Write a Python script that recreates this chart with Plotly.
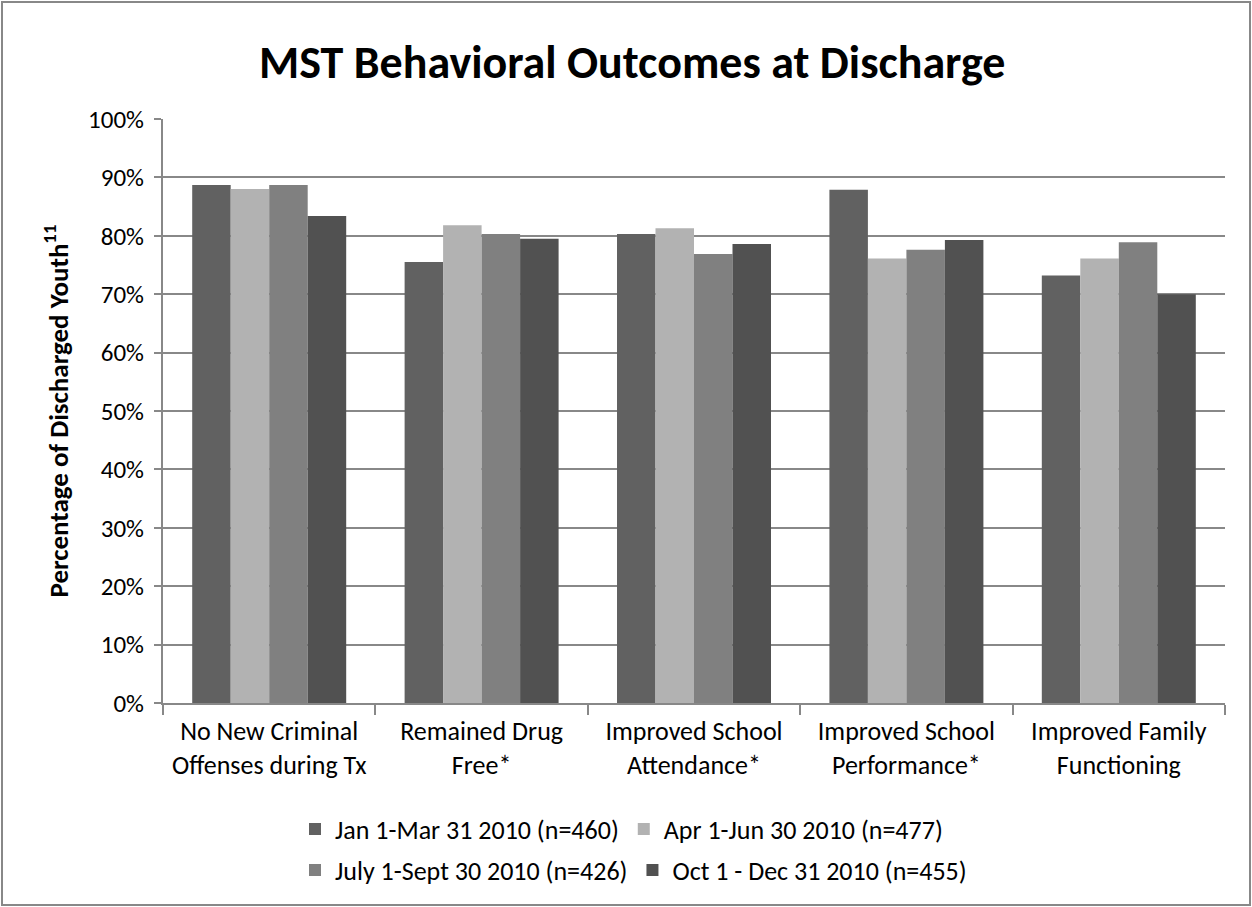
import plotly.graph_objects as go

# Outcome categories along the x axis
categories = [
    "No New Criminal<br>Offenses during Tx",
    "Remained Drug<br>Free*",
    "Improved School<br>Attendance*",
    "Improved School<br>Performance*",
    "Improved Family<br>Functioning",
]

# Share of discharged youth (%) per reporting period
q1_2010 = [88.7, 75.5, 80.3, 87.9, 73.2]
q2_2010 = [88.0, 81.8, 81.3, 76.1, 76.1]
q3_2010 = [88.7, 80.3, 76.9, 77.6, 78.9]
q4_2010 = [83.4, 79.5, 78.6, 79.3, 70.0]

series_names = [
    "Jan 1-Mar 31 2010 (n=460)",
    "Apr 1-Jun 30 2010 (n=477)",
    "July 1-Sept 30 2010 (n=426)",
    "Oct 1 - Dec 31 2010 (n=455)",
]
series_values = [q1_2010, q2_2010, q3_2010, q4_2010]
series_colors = ["#616161", "#b2b2b2", "#808080", "#515151"]
series_legends = ["legend", "legend", "legend2", "legend2"]

FONT = "Carlito, Lato, 'Open Sans', sans-serif"
W, H = 1252, 907
ML, MR, MT, MB = 163, 27, 119, 204

fig = go.Figure()
for name, vals, col, lg in zip(series_names, series_values, series_colors, series_legends):
    fig.add_trace(go.Bar(
        x=categories, y=vals, name=name,
        marker=dict(color=col, line=dict(width=0)),
        legend=lg,
    ))

pw = W - ML - MR
ph = H - MT - MB

fig.update_layout(
    width=W, height=H,
    margin=dict(l=ML, r=MR, t=MT, b=MB),
    paper_bgcolor="white", plot_bgcolor="white",
    font=dict(family=FONT, size=26, color="black"),
    barmode="group", bargap=0.275, bargroupgap=0,
    title=dict(
        text="<b>MST Behavioral Outcomes at Discharge</b>",
        x=0.505, xref="container", xanchor="center",
        y=1 - 62 / H, yref="container", yanchor="middle",
        font=dict(family=FONT, size=46, color="black"),
    ),
    xaxis=dict(
        showgrid=False, showline=True, linecolor="#888888", linewidth=2,
        ticks="outside", tickson="boundaries", ticklen=10, tickcolor="#888888", tickwidth=2,
        tickfont=dict(size=26), ticklabelstandoff=4,
    ),
    yaxis=dict(
        range=[0, 100], dtick=10, ticksuffix="%",
        showgrid=True, gridcolor="#888888", gridwidth=2,
        showline=True, linecolor="#888888", linewidth=2,
        ticks="outside", ticklen=7, tickcolor="#888888", tickwidth=2,
        tickfont=dict(size=25), zeroline=False, ticklabelstandoff=5,
        title=dict(text="<b>Percentage of Discharged Youth<sup>11</sup></b>",
                   font=dict(size=27), standoff=12),
    ),
    legend=dict(
        orientation="h", xref="container", yref="container",
        x=295 / W, xanchor="left", y=1 - 829 / H, yanchor="middle",
        font=dict(size=26), itemwidth=30, tracegroupgap=0,
    ),
    legend2=dict(
        orientation="h", xref="container", yref="container",
        x=295 / W, xanchor="left", y=1 - 870 / H, yanchor="middle",
        font=dict(size=26), itemwidth=30, tracegroupgap=0,
    ),
    shapes=[dict(
        type="rect", xref="paper", yref="paper",
        x0=(2 - ML) / pw, x1=(W - 2 - ML) / pw,
        y0=-(MB - 2) / ph, y1=1 + (MT - 2) / ph,
        line=dict(color="#888888", width=2), fillcolor="rgba(0,0,0,0)",
        layer="below",
    )],
)

fig.write_html("out.html")
